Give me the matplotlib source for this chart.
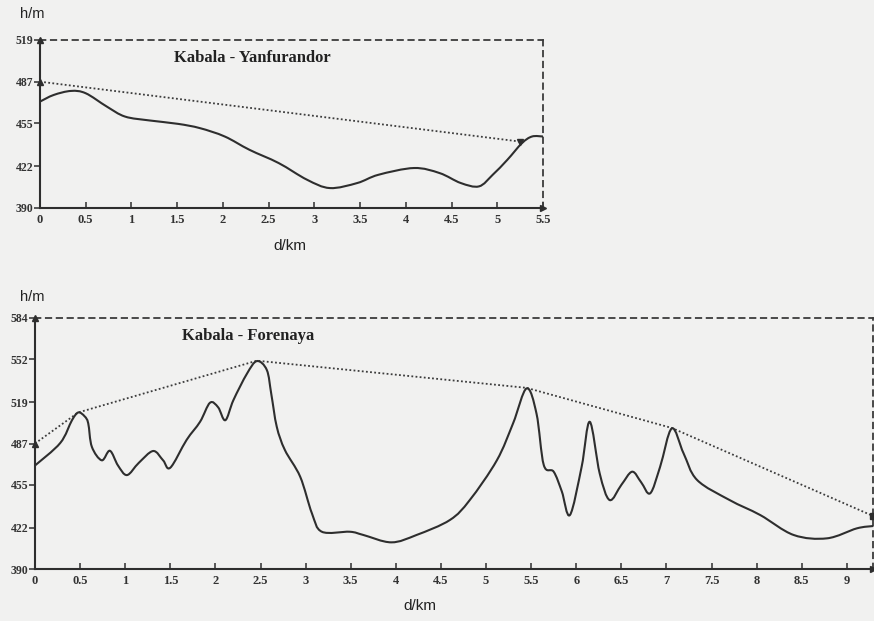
import matplotlib
matplotlib.use("Agg")
import matplotlib.pyplot as plt
from matplotlib.path import Path
from matplotlib.patches import PathPatch

# ---------------- data ----------------
top_title = "Kabala - Yanfurandor"
top_d = [0, 0.15, 0.34, 0.5, 0.73, 0.93, 1.2, 1.51, 1.75, 2.02, 2.29, 2.61, 2.92, 3.17,
         3.47, 3.7, 4.09, 4.37, 4.6, 4.8, 4.95, 5.11, 5.27, 5.38, 5.5]
top_h = [471.7, 476.8, 479.9, 478.1, 467.9, 460.2, 457.2, 454.6, 451.3, 444.9, 434.7, 424.5,
         411.7, 405.3, 409.2, 415.5, 420.7, 416.8, 409.2, 406.6, 415.5, 427.0, 439.8, 444.9, 444.9]
top_ref_d = [0, 5.25]
top_ref_h = [487, 441]
top_xticks = [0, 0.5, 1, 1.5, 2, 2.5, 3, 3.5, 4, 4.5, 5, 5.5]
top_xlabels = ["0", "0.5", "1", "1.5", "2", "2.5", "3", "3.5", "4", "4.5", "5", "5.5"]
top_yticks = [390, 422, 455, 487, 519]

bot_title = "Kabala - Forenaya"
bot_d = [0, 0.28, 0.41, 0.48, 0.55, 0.59, 0.63, 0.74, 0.83, 0.92, 1.02, 1.15, 1.31, 1.42, 1.5,
         1.68, 1.83, 1.94, 2.03, 2.11, 2.2, 2.35, 2.46, 2.57, 2.62, 2.68, 2.77, 2.94, 3.07, 3.18,
         3.49, 3.64, 3.95, 4.23, 4.6, 4.82, 5.12, 5.3, 5.45, 5.56, 5.64, 5.75, 5.84, 5.93, 6.06,
         6.15, 6.26, 6.37, 6.5, 6.62, 6.72, 6.82, 6.93, 7.06, 7.19, 7.34, 7.7, 8.04, 8.41, 8.78,
         9.11, 9.29]
bot_h = [470.0, 487.4, 505.0, 511.0, 508.0, 502.6, 484.5, 474.0, 481.4, 470.0, 462.6, 472.0,
         481.2, 474.0, 468.3, 489.7, 503.8, 518.5, 515.0, 505.0, 520.6, 541.0, 550.7, 543.8,
         525.0, 500.0, 482.0, 461.3, 433.0, 418.8, 418.8, 416.3, 410.6, 416.3, 427.9, 443.3,
         474.0, 502.6, 529.6, 510.0, 470.4, 465.2, 450.0, 431.7, 469.0, 503.8, 463.9, 443.3,
         455.0, 465.2, 457.0, 448.5, 469.0, 498.7, 479.4, 458.8, 443.3, 431.7, 416.3, 413.7,
         421.4, 423.2]
bot_ref_d = [0, 0.48, 2.46, 5.45, 7.06, 9.29]
bot_ref_h = [487, 511, 551, 530, 499, 431]
bot_xticks = [0, 0.5, 1, 1.5, 2, 2.5, 3, 3.5, 4, 4.5, 5, 5.5, 6, 6.5, 7, 7.5, 8, 8.5, 9]
bot_xlabels = ["0", "0.5", "1", "1.5", "2", "2.5", "3", "3.5", "4", "4.5", "5", "5.5",
               "6", "6.5", "7", "7.5", "8", "8.5", "9"]
bot_yticks = [390, 422, 455, 487, 519, 552, 584]

# ---------------- style ----------------
BG = "#f1f1f0"
INK = "#2e2e2e"
SERIF = ["Liberation Serif", "DejaVu Serif"]
SANS = ["Liberation Sans", "DejaVu Sans"]

fig = plt.figure(figsize=(8.74, 6.21), dpi=100, facecolor=BG)


def smooth_path(d, h):
    """Catmull-Rom rendering of the profile as cubic Bezier segments (drawing only)."""
    n = len(d)
    verts = [(d[0], h[0])]
    codes = [Path.MOVETO]
    t = 1 / 6.0
    for i in range(n - 1):
        p0 = (d[max(i - 1, 0)], h[max(i - 1, 0)])
        p1 = (d[i], h[i])
        p2 = (d[i + 1], h[i + 1])
        p3 = (d[min(i + 2, n - 1)], h[min(i + 2, n - 1)])
        c1 = (p1[0] + (p2[0] - p0[0]) * t, p1[1] + (p2[1] - p0[1]) * t)
        c2 = (p2[0] - (p3[0] - p1[0]) * t, p2[1] - (p3[1] - p1[1]) * t)
        verts += [c1, c2, p2]
        codes += [Path.CURVE4] * 3
    return Path(verts, codes)


def draw(ax, d, h, ref_d, ref_h, xticks, xlabels, yticks, xmax, ymax, title, title_xy):
    ax.set_facecolor(BG)
    ax.set_xlim(0, xmax)
    ax.set_ylim(390, ymax)
    ax.add_patch(PathPatch(smooth_path(d, h), facecolor="none", edgecolor=INK, lw=1.5,
                           joinstyle="round", zorder=3))
    ax.plot(ref_d, ref_h, color="#3c3c3c", lw=1.3, ls=(0, (1, 1.3)), zorder=2)
    # arrow markers
    ax.plot([0], [ref_h[0]], marker="^", color=INK, ms=5, clip_on=False, zorder=4)
    ax.plot([0], [ymax], marker="^", color=INK, ms=5, clip_on=False, zorder=4)
    ax.plot([xmax], [390], marker=">", color=INK, ms=5, clip_on=False, zorder=4)
    for s in ("left", "bottom"):
        ax.spines[s].set_color(INK)
        ax.spines[s].set_linewidth(1.5)
    for s in ("top", "right"):
        ax.spines[s].set_color("#3c3c3c")
        ax.spines[s].set_linewidth(1.3)
        ax.spines[s].set_linestyle((0, (3, 3)))
    ax.set_xticks(xticks)
    ax.set_xticklabels(xlabels, fontfamily=SERIF, fontsize=9, fontweight="bold", color="#333333")
    ax.set_yticks(yticks)
    ax.set_yticklabels([str(v) for v in yticks], fontfamily=SERIF, fontsize=8.5,
                       fontweight="bold", color="#333333")
    ax.tick_params(axis="x", direction="in", length=4, width=1.1, color=INK, pad=4)
    ax.tick_params(axis="y", direction="out", length=4, width=1.1, color=INK, pad=1)
    ax.text(title_xy[0], title_xy[1], title, transform=ax.transAxes, fontfamily=SERIF,
            fontsize=12, fontweight="bold", color="#222222", ha="center", va="center")


ax1 = fig.add_axes([40 / 874, 1 - 208 / 621, 503 / 874, 168 / 621])
draw(ax1, top_d, top_h, top_ref_d, top_ref_h, top_xticks, top_xlabels, top_yticks,
     5.5, 519, top_title, ((252 - 40) / 503, (208 - 58) / 168))
ax1.plot([top_ref_d[-1]], [top_ref_h[-1]], marker="v", color=INK, ms=5, zorder=4)

ax2 = fig.add_axes([35 / 874, 1 - 569 / 621, 838 / 874, 251 / 621])
draw(ax2, bot_d, bot_h, bot_ref_d, bot_ref_h, bot_xticks, bot_xlabels, bot_yticks,
     9.29, 584, bot_title, ((248 - 35) / 838, (569 - 336) / 251))
ax2.plot([bot_ref_d[-1]], [bot_ref_h[-1]], marker="s", color=INK, ms=4, clip_on=False, zorder=4)

# axis labels
fig.text(20 / 874, 1 - 14 / 621, "h/m", fontfamily=SANS, fontsize=10.5, color="#222222",
         ha="left", va="center")
fig.text(290 / 874, 1 - 246 / 621, "d/km", fontfamily=SANS, fontsize=11, color="#222222",
         ha="center", va="center")
fig.text(20 / 874, 1 - 297 / 621, "h/m", fontfamily=SANS, fontsize=10.5, color="#222222",
         ha="left", va="center")
fig.text(420 / 874, 1 - 606 / 621, "d/km", fontfamily=SANS, fontsize=11, color="#222222",
         ha="center", va="center")

fig.savefig("out.png", dpi=100, facecolor=BG)
